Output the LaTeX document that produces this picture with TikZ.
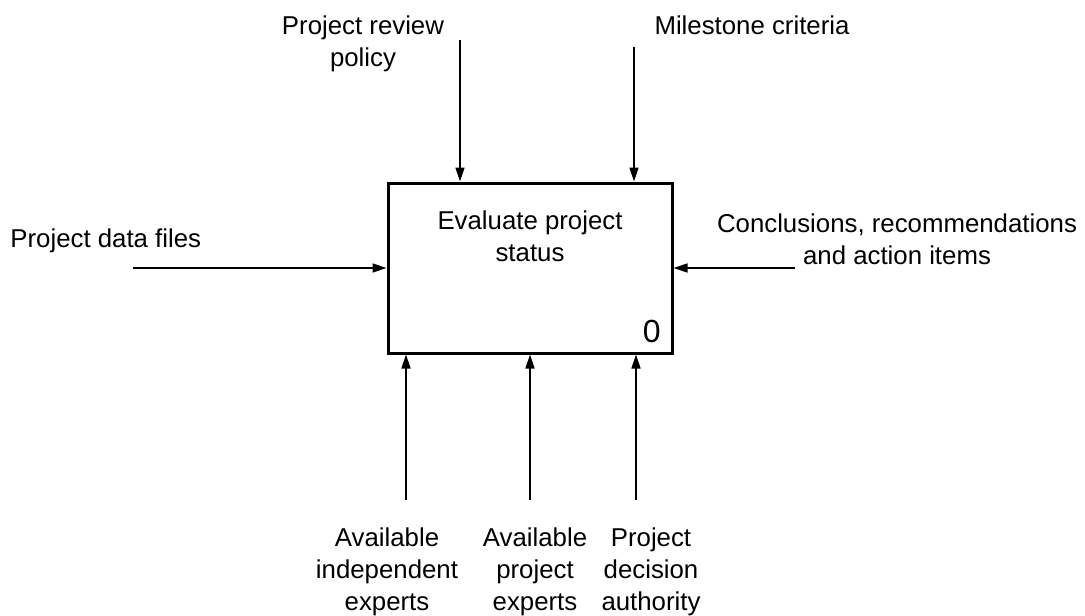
\documentclass[tikz,border=0pt]{standalone}
\usepackage{fontspec}
\setmainfont{Liberation Sans}
\usetikzlibrary{arrows.meta}
\begin{document}
\begin{tikzpicture}[x=0.5pt,y=-0.5pt,
  lbl/.style={inner sep=0pt,align=center,font=\fontsize{12.9}{16}\selectfont},
  flow/.style={line width=0.75pt,-{Triangle[length=7pt,width=4.5pt]}},
  proc/.style={draw,line width=1.5pt,minimum width=142pt,minimum height=85pt,inner sep=0pt}]
\useasboundingbox (0,0) rectangle (1085,615);
\node[proc] (eval) at (530,268) {};
\node[lbl,anchor=north] (title) at (530,210) {Evaluate project\\status};
\node[lbl,anchor=base east,font=\fontsize{16}{19}\selectfont] (num) at (661,342) {0};
\coordinate (review) at (460,40);
\coordinate (milestone) at (634,47);
\coordinate (data) at (133,268);
\coordinate (concl) at (795,268);
\coordinate (indep) at (406,500);
\coordinate (projexp) at (530,500);
\coordinate (author) at (636,500);
\draw[flow] (review) -- (review |- eval.north);
\draw[flow] (milestone) -- (milestone |- eval.north);
\draw[flow] (data) -- (eval.west);
\draw[flow] (concl) -- (eval.east);
\draw[flow] (indep) -- (indep |- eval.south);
\draw[flow] (projexp) -- (projexp |- eval.south);
\draw[flow] (author) -- (author |- eval.south);
\node[lbl,anchor=north] (reviewtxt) at (363,15) {Project review\\policy};
\node[lbl,anchor=north] (milestonetxt) at (752,15) {Milestone criteria};
\node[lbl,anchor=north west] (datatxt) at (10,228) {Project data files};
\node[lbl,anchor=north] (concltxt) at (897,213) {Conclusions, recommendations\\and action items};
\node[lbl,anchor=north] (indeptxt) at (387,527) {Available\\independent\\experts};
\node[lbl,anchor=north] (projexptxt) at (535,527) {Available\\project\\experts};
\node[lbl,anchor=north] (authortxt) at (651,527) {Project\\decision\\authority};
\end{tikzpicture}
\end{document}
